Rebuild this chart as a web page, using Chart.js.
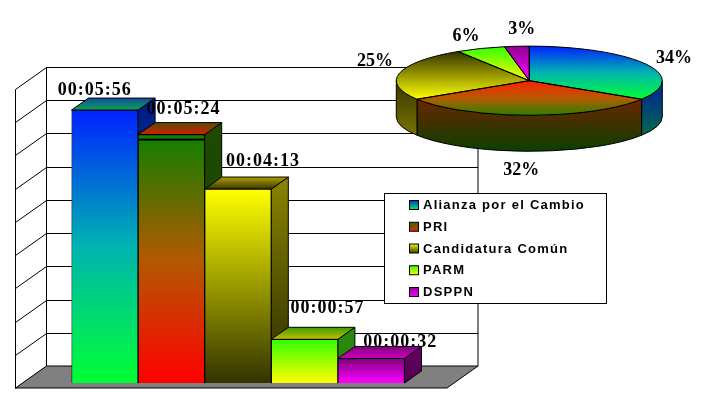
<!DOCTYPE html>
<html>
<head>
<meta charset="utf-8">
<style>
    html, body { margin: 0; padding: 0; background: #fff; }
    #wrap { position: relative; width: 712px; height: 411px; overflow: hidden; }
    canvas { position: absolute; left: 0; top: 0; }
</style>
</head>
<body>
<div id="wrap">
    <canvas id="barChart" width="712" height="411"></canvas>
    <canvas id="pieChart" width="712" height="411"></canvas>
</div>
<script src="https://cdn.jsdelivr.net/npm/chart.js@4/dist/chart.umd.min.js"></script>
<script>
// Data
const categories = ['Alianza por el Cambio', 'PRI', 'Candidatura Común', 'PARM', 'DSPPN'];
const seconds = [356, 324, 253, 57, 32];
const percents = [34, 32, 25, 6, 3];

// Colours, top to bottom: front, top face and side face of each bar
const frontColors = [['#0022ff', '#00b4b0', '#00ff33'], ['#0f8000', '#b05a00', '#ff0000'], ['#ffff00', '#333300'], ['#33ff00', '#ffff00'], ['#800080', '#ff00ff']];
const topColors = [['#0f4fa0', '#10a050'], ['#5a4a00', '#d02000'], ['#b0a000', '#3a3500'], ['#3f9a00', '#c0c000'], ['#800080', '#d000c0']];
const sideColors = [['#001a90', '#006040'], ['#1f4a00', '#154000'], ['#8a8500', '#2a2a00'], ['#2a8a10', '#308000'], ['#660066', '#500050']];
// Colours of the pie slices and of their rim
const sliceColors = [['#0022ff', '#00b4b0', '#00ff33'], ['#ff2000', '#b85a00', '#2a8000'], ['#333300', '#ffff00'], ['#33ff00', '#ffff00'], ['#900090', '#ff00ff']];
const rimColors = [['#002a90', '#008030'], ['#802000', '#0a4000'], ['#404000', '#8a8500']];
const legendColors = [['#0022ff', '#00ff33'], ['#207000', '#ff2000'], ['#ffff00', '#333300'], ['#33ff00', '#ffff00'], ['#900090', '#ff00ff']];

// Where the value labels sit relative to the top of their bar
const barLabelShift = [[-10, -15], [12, -21], [25, -23], [23, -26], [29, -11]];
// Nudges for the percent labels, after placing them around the pie
const pieLabelShift = [[-1, -3], [-8, 9], [8, -11], [-2, -6], [8, -10]];

const depthX = 17, depthY = 12;      // 3D offset of a bar
const wallX = 25, wallY = 17;        // from bar plane to back wall
const frontY = 5;                    // from bar plane to front of floor
const serif = 'bold 18px "Liberation Serif"';

function toClock(total) {
    const pad = n => String(n).padStart(2, '0');
    return pad(Math.floor(total / 3600)) + ':' + pad(Math.floor(total / 60) % 60) + ':' + pad(total % 60);
}

function vGradient(ctx, y0, y1, colors) {
    const g = ctx.createLinearGradient(0, y0, 0, y1);
    colors.forEach((c, i) => g.addColorStop(i / (colors.length - 1), c));
    return g;
}

function fillShape(ctx, points, fill) {
    ctx.beginPath();
    points.forEach((p, i) => i ? ctx.lineTo(p[0], p[1]) : ctx.moveTo(p[0], p[1]));
    ctx.closePath();
    ctx.fillStyle = fill;
    ctx.fill();
    ctx.stroke();
}

// Walls, floor and grid lines, taken from the chart scales
const wallPlugin = {
    id: 'wall',
    beforeDatasetsDraw(chart) {
        const ctx = chart.ctx, y = chart.scales.y, area = chart.chartArea;
        const backLeft = area.left - wallX, backRight = area.right + 73.5;
        const base = y.getPixelForValue(0);
        ctx.save();
        ctx.strokeStyle = '#000';
        ctx.lineWidth = 1;
        y.ticks.forEach(t => {
            const py = Math.round(y.getPixelForValue(t.value) - wallY) + 0.5;
            ctx.beginPath();
            ctx.moveTo(backRight, py);
            ctx.lineTo(backLeft, py);
            ctx.lineTo(backLeft - 31, py + 22);
            ctx.stroke();
        });
        const top = Math.round(y.getPixelForValue(y.max) - wallY) + 0.5;
        ctx.beginPath();
        ctx.moveTo(backLeft, top); ctx.lineTo(backLeft, base - wallY);
        ctx.moveTo(backRight, top); ctx.lineTo(backRight, base - wallY);
        ctx.moveTo(backLeft - 31, top + 22); ctx.lineTo(backLeft - 31, base + frontY);
        ctx.stroke();
        fillShape(ctx, [
            [backLeft, base - wallY], [backRight, base - wallY],
            [backRight - 31, base + frontY], [backLeft - 31, base + frontY]
        ], '#808080');

        // top and side faces, left to right so each bar overlaps the one before
        chart.getDatasetMeta(0).data.forEach((bar, i) => {
            const l = bar.x - bar.width / 2, r = bar.x + bar.width / 2, t = bar.y, b = bar.base;
            fillShape(ctx, [[r, t], [r + depthX, t - depthY], [r + depthX, b - depthY], [r, b]],
                vGradient(ctx, t - depthY, b, sideColors[i]));
            fillShape(ctx, [[l, t], [l + depthX, t - depthY], [r + depthX, t - depthY], [r, t]],
                vGradient(ctx, t - depthY, t, topColors[i]));
        });
        ctx.restore();
    },
    afterDatasetsDraw(chart) {
        const ctx = chart.ctx;
        ctx.save();
        const bars = chart.getDatasetMeta(0).data;
        // dark stripe under the top edge of the PRI bar
        const pri = bars[1];
        ctx.fillStyle = '#000';
        ctx.fillRect(pri.x - pri.width / 2, pri.y + 4, pri.width, 2);
        ctx.font = serif;
        ctx.letterSpacing = '1px';
        ctx.textAlign = 'center';
        ctx.textBaseline = 'alphabetic';
        bars.forEach((bar, i) => {
            ctx.fillText(toClock(seconds[i]), bar.x + barLabelShift[i][0], bar.y + barLabelShift[i][1]);
        });
        ctx.restore();
    }
};

new Chart(document.getElementById('barChart'), {
    type: 'bar',
    data: {
        labels: categories,
        datasets: [{
            data: seconds,
            barPercentage: 1,
            categoryPercentage: 1,
            borderColor: '#000',
            borderWidth: 1,
            backgroundColor(c) {
                const y = c.chart.scales.y;
                if (!y || c.dataIndex === undefined) return frontColors[0][0];
                const y0 = y.getPixelForValue(seconds[c.dataIndex]), y1 = y.getPixelForValue(0);
                if (!Number.isFinite(y0) || !Number.isFinite(y1)) return frontColors[c.dataIndex][0];
                return vGradient(c.chart.ctx, y0, y1, frontColors[c.dataIndex]);
            }
        }]
    },
    options: {
        responsive: false,
        animation: false,
        layout: { padding: { left: 71.5, right: 307.5, top: 84, bottom: 28 } },
        plugins: { legend: { display: false }, tooltip: { enabled: false } },
        scales: {
            x: { display: false },
            y: { display: false, min: 0, max: 390, ticks: { stepSize: 390 / 9 } }
        }
    },
    plugins: [wallPlugin]
});

// Pie: flattened by scaling the canvas while Chart.js draws the arcs
const squash = 0.26, rimDepth = 36, pieCenterY = 80.7;

// vertical extent of a slice on the unit circle, so its gradient fits it
function sliceExtent(i) {
    const total = percents.reduce((a, b) => a + b, 0);
    const before = percents.slice(0, i).reduce((a, b) => a + b, 0);
    let lo = 0, hi = 0;
    for (let k = 0; k <= 40; k++) {
        const f = (before + percents[i] * k / 40) / total;
        const v = -Math.cos(f * 2 * Math.PI);
        lo = Math.min(lo, v);
        hi = Math.max(hi, v);
    }
    return [lo, hi];
}

const piePlugin = {
    id: 'pie3d',
    beforeDatasetsDraw(chart) {
        const ctx = chart.ctx;
        const arcs = chart.getDatasetMeta(0).data;
        const cx = arcs[0].x, r = arcs[0].outerRadius, ry = r * squash;
        ctx.save();
        ctx.strokeStyle = '#000';
        ctx.lineWidth = 1;
        // the rim only shows on the front half of the ellipse
        arcs.forEach((arc, i) => {
            const a0 = Math.max(arc.startAngle, 0), a1 = Math.min(arc.endAngle, Math.PI);
            if (a1 <= a0) return;
            ctx.beginPath();
            ctx.ellipse(cx, pieCenterY, r, ry, 0, a0, a1);
            ctx.ellipse(cx, pieCenterY + rimDepth, r, ry, 0, a1, a0, true);
            ctx.closePath();
            ctx.fillStyle = vGradient(ctx, pieCenterY + 8, pieCenterY + ry + rimDepth, rimColors[i]);
            ctx.fill();
            ctx.stroke();
        });
        ctx.restore();
        ctx.save();
        ctx.translate(0, pieCenterY);
        ctx.scale(1, squash);
        ctx.translate(0, -arcs[0].y);
    },
    afterDatasetsDraw(chart) {
        const ctx = chart.ctx;
        ctx.restore();
        const arcs = chart.getDatasetMeta(0).data;
        const cx = arcs[0].x, r = arcs[0].outerRadius, ry = r * squash;
        ctx.save();
        ctx.strokeStyle = '#000';
        ctx.lineWidth = 1;
        arcs.forEach(arc => {
            ctx.beginPath();
            ctx.moveTo(cx, pieCenterY);
            ctx.ellipse(cx, pieCenterY, r, ry, 0, arc.startAngle, arc.endAngle);
            ctx.closePath();
            ctx.stroke();
        });
        // percent labels around the pie
        ctx.fillStyle = '#000';
        ctx.font = serif;
        ctx.textAlign = 'center';
        ctx.textBaseline = 'alphabetic';
        arcs.forEach((arc, i) => {
            const mid = (arc.startAngle + arc.endAngle) / 2;
            const below = Math.sin(mid) > 0.9 ? rimDepth : 0;
            const x = cx + Math.cos(mid) * r * 1.25 + pieLabelShift[i][0];
            const y = pieCenterY + Math.sin(mid) * ry * 1.25 + below + pieLabelShift[i][1] + 6;
            ctx.fillText(percents[i] + '%', x, y);
        });
        ctx.restore();
    },
    afterDraw(chart) {
        // legend box over the chart
        const ctx = chart.ctx;
        ctx.save();
        ctx.fillStyle = '#fff';
        ctx.strokeStyle = '#000';
        ctx.lineWidth = 1;
        ctx.fillRect(385, 194, 221, 109);
        ctx.strokeRect(384.5, 193.5, 222, 110);
        ctx.font = 'bold 13px "Liberation Sans"';
        ctx.letterSpacing = '1.25px';
        ctx.textBaseline = 'middle';
        chart.data.labels.forEach((label, i) => {
            const y = 205 + i * 21.75;
            ctx.fillStyle = vGradient(ctx, y - 5, y + 5, legendColors[i]);
            ctx.fillRect(409.5, y - 4.5, 9, 9);
            ctx.strokeRect(409.5, y - 4.5, 9, 9);
            ctx.fillStyle = '#000';
            ctx.fillText(label, 423, y + 0.5);
        });
        ctx.restore();
    }
};

new Chart(document.getElementById('pieChart'), {
    type: 'pie',
    data: {
        labels: categories,
        datasets: [{
            data: percents,
            borderWidth: 0,
            backgroundColor(c) {
                const area = c.chart.chartArea;
                if (!area || c.dataIndex === undefined) return sliceColors[0][0];
                const mid = (area.top + area.bottom) / 2, r = (area.bottom - area.top) / 2;
                const ext = sliceExtent(c.dataIndex);
                return vGradient(c.chart.ctx, mid + ext[0] * r, mid + ext[1] * r, sliceColors[c.dataIndex]);
            }
        }]
    },
    options: {
        responsive: false,
        animation: false,
        layout: { padding: { left: 396.3, right: 49.7, top: 0, bottom: 145 } },
        plugins: { legend: { display: false }, tooltip: { enabled: false } }
    },
    plugins: [piePlugin]
});
</script>
</body>
</html>
